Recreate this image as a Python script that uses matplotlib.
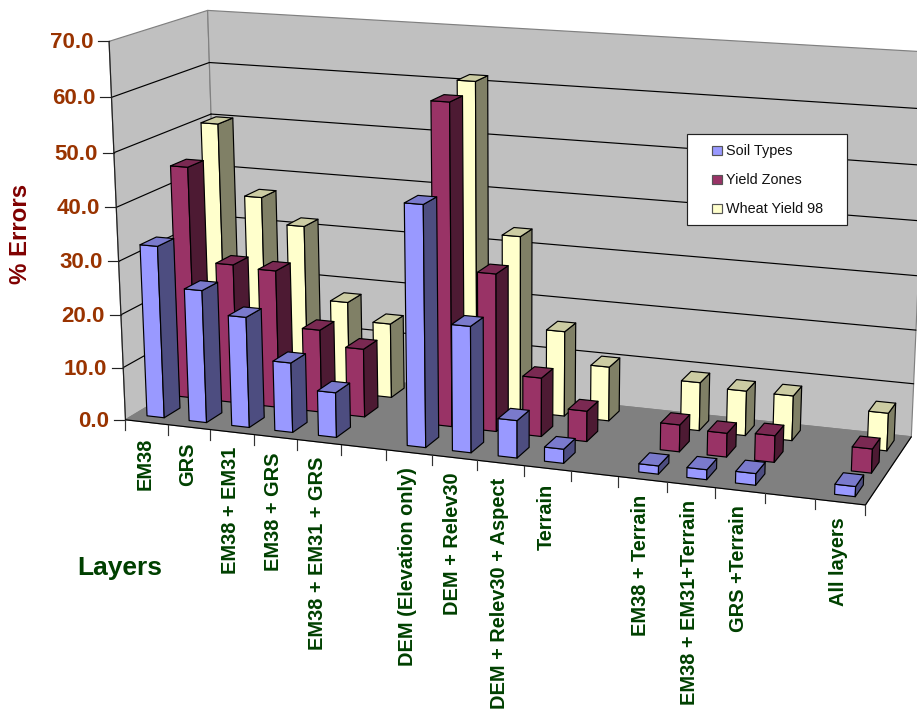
import numpy as np
import matplotlib
matplotlib.use("Agg")
import matplotlib.pyplot as plt
from matplotlib.patches import Polygon, Rectangle

plt.rcParams['font.family'] = ['Liberation Sans', 'DejaVu Sans']

layers = ["EM38", "GRS", "EM38 + EM31", "EM38 + GRS", "EM38 + EM31 + GRS", "",
          "DEM (Elevation only)", "DEM + Relev30", "DEM + Relev30 + Aspect", "Terrain", "",
          "EM38 + Terrain", "EM38 + EM31+Terrain", "GRS +Terrain", "", "All layers"]

soil_types = [32.5, 25.0, 20.8, 13.1, 8.4, None, 44.3, 23.2, 6.9, 2.6, None, 1.5, 1.8, 2.1, None, 1.8]
yield_zones = [44.5, 26.7, 26.3, 15.8, 13.0, None, 60.0, 29.5, 11.0, 5.7, None, 5.0, 4.4, 4.9, None, 4.4]
wheat_yield = [50.2, 36.7, 31.8, 17.8, 14.4, None, 61.5, 33.4, 16.2, 10.3, None, 9.1, 8.4, 8.4, None, 7.0]

series_names = ["Soil Types", "Yield Zones", "Wheat Yield 98"]
y_ticks = [0, 10, 20, 30, 40, 50, 60, 70]

# front, side, top shades for each series
shades = [("#9999FF", "#4D4D80", "#7A7ACC"),
          ("#993366", "#4D1A33", "#7A2952"),
          ("#FFFFCC", "#808066", "#CCCCA3")]

n_cat = len(layers)
n_ser = len(series_names)
z_max = y_ticks[-1]

# box corners (category, series, value) -> pixel, used to fit the camera
box = [(0, 0, 0), (n_cat, 0, 0), (0, n_ser, 0), (n_cat, n_ser, 0),
       (0, 0, z_max), (n_cat, 0, z_max), (0, n_ser, z_max), (n_cat, n_ser, z_max)]
box_px = [(125.7, 420), (865, 505), (219, 363.3), (911.7, 436.7),
          (109, 41), (882, 90), (207.7, 10.7), (928, 52)]


def fit_camera(world, px):
    rows = []
    rhs = []
    for (a, b, c), (x, y) in zip(world, px):
        rows.append([a, b, c, 1, 0, 0, 0, 0, -x*a, -x*b, -x*c])
        rhs.append(x)
        rows.append([0, 0, 0, 0, a, b, c, 1, -y*a, -y*b, -y*c])
        rhs.append(y)
    sol = np.linalg.lstsq(np.array(rows, float), np.array(rhs, float), rcond=None)[0]
    return np.append(sol, 1).reshape(3, 4)


cam = fit_camera(box, box_px)


def pr(u, v, z):
    p = cam @ np.array([u, v, z, 1.0])
    return p[0]/p[2], p[1]/p[2]


fig = plt.figure(figsize=(9.17, 7.11), dpi=100)
ax = fig.add_axes([0, 0, 1, 1])
ax.set_xlim(0, 917)
ax.set_ylim(711, 0)
ax.axis("off")


def face(pts, color, edge, lw=0.85, zo=1):
    ax.add_patch(Polygon([pr(*p) for p in pts], closed=True, facecolor=color,
                         edgecolor=edge, linewidth=lw, zorder=zo, joinstyle="round"))


def seg(a, b, color="black", lw=0.85, zo=2):
    p, q = pr(*a), pr(*b)
    ax.plot([p[0], q[0]], [p[1], q[1]], color=color, lw=lw, zorder=zo, solid_capstyle="round")


# walls and floor
wall = "#C0C0C0"
face([(0, 0, 0), (0, n_ser, 0), (0, n_ser, z_max), (0, 0, z_max)], wall, "#808080", zo=1)
face([(0, n_ser, 0), (n_cat, n_ser, 0), (n_cat, n_ser, z_max), (0, n_ser, z_max)], wall, "#808080", zo=1)
face([(0, 0, 0), (n_cat, 0, 0), (n_cat, n_ser, 0), (0, n_ser, 0)], "#808080", "#808080", zo=1)

# gridlines on both walls
for t in y_ticks[1:-1]:
    seg((0, 0, t), (0, n_ser, t))
    seg((0, n_ser, t), (n_cat, n_ser, t))

# axis lines and ticks
seg((0, 0, 0), (0, 0, z_max), color="#222222", zo=2)
seg((0, 0, 0), (n_cat, 0, 0), zo=2)
seg((n_cat, 0, 0), (n_cat, n_ser, 0), color="black", zo=2)

for t in y_ticks:
    x, y = pr(0, 0, t)
    ax.plot([x-11, x], [y, y], color="#222222", lw=0.85, zorder=2)
    ax.text(x-16, y+1.5, f"{t:.1f}", ha="right", va="center", fontsize=16, fontweight="bold",
            color="#993300", zorder=5)

for i in range(n_cat+1):
    x, y = pr(i, 0, 0)
    ax.plot([x, x], [y, y+10], color="#333333", lw=0.85, zorder=2)

for i, name in enumerate(layers):
    if not name:
        continue
    x, y = pr(i+0.5, 0, 0)
    ax.text(x-1.5, y+15, name, rotation=90, ha="center", va="top", fontsize=14.4, fontweight="bold",
            color="#004000", zorder=5)

# bars, back row first so nearer ones cover them
u0, u1 = 0.30, 0.71
v0, v1 = 0.27, 0.76
rows = [soil_types, yield_zones, wheat_yield]
zo = 3
for j in range(n_ser-1, -1, -1):
    front, side, top = shades[j]
    for i, val in enumerate(rows[j]):
        if val is None:
            continue
        a, b = i+u0, i+u1
        c, d = j+v0, j+v1
        face([(a, c, 0), (b, c, 0), (b, c, val), (a, c, val)], front, "black", zo=zo)
        face([(b, c, 0), (b, d, 0), (b, d, val), (b, c, val)], side, "black", zo=zo)
        face([(a, c, val), (b, c, val), (b, d, val), (a, d, val)], top, "black", zo=zo)

# legend box
ax.add_patch(Rectangle((687.3, 134.3), 160, 90.7, facecolor="white", edgecolor="#222222", lw=0.85, zorder=6))
for k, name in enumerate(series_names):
    yc = 150.7+29*k
    ax.add_patch(Rectangle((711.7, yc-4.7), 10, 9.4, facecolor=shades[k][0], edgecolor="#555555",
                           lw=0.85, zorder=7))
    ax.text(725.5, yc, name, ha="left", va="center", fontsize=10.4, color="#111111", zorder=7)

ax.text(21, 234, "% Errors", rotation=90, ha="center", va="center", fontsize=17.3, fontweight="bold",
        color="#800000")
ax.text(77, 568.5, "Layers", ha="left", va="center", fontsize=19, fontweight="bold", color="#004000")

fig.savefig("out.png", dpi=100)
